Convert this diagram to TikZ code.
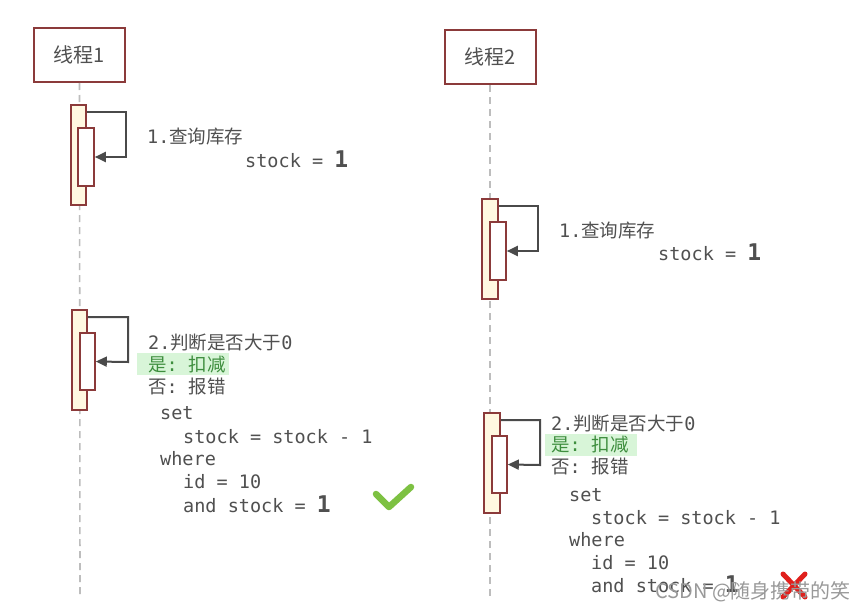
\documentclass[tikz,border=0pt]{standalone}
\usepackage{fontspec}
\setmonofont{DejaVu Sans Mono}
\newfontfamily\cjk{Noto Sans CJK SC}
\usetikzlibrary{arrows.meta}
\definecolor{boxred}{HTML}{8B3A3A}
\definecolor{actfill}{HTML}{FFF8E1}
\definecolor{txtgray}{HTML}{505050}
\definecolor{arrgray}{HTML}{4A4A4A}
\definecolor{hlgreen}{HTML}{D8F5D8}
\definecolor{txtgreen}{HTML}{3E8E3E}
\definecolor{checkgreen}{HTML}{7DC142}
\definecolor{xred}{HTML}{E0201C}
\definecolor{lifegray}{HTML}{BDBDBD}
\newcommand\zh[1]{{\cjk #1}}
\newcommand\bignum[1]{{\fontsize{23}{23}\selectfont\bfseries #1}}
\tikzset{
  thread/.style={draw=boxred, line width=2pt, fill=white, minimum width=91pt, minimum height=54pt, inner sep=0pt, font=\fontsize{20}{20}\selectfont\cjk, text=txtgray},
  outerbar/.style={draw=boxred, line width=1.6pt, fill=actfill},
  innerbar/.style={draw=boxred, line width=1.6pt, fill=white},
  selfarrow/.style={draw=arrgray, line width=2pt, -{Triangle[length=11pt,width=10pt]}},
  lifeline/.style={draw=lifegray, line width=1.6pt, dash pattern=on 7pt off 5pt},
  lbl/.style={anchor=base west, inner sep=0pt, text=txtgray, font=\fontsize{18.5}{18.5}\selectfont\ttfamily},
  glbl/.style={lbl, text=txtgreen},
  hl/.style={fill=hlgreen, draw=none},
  tick/.style={line cap=round, line join=round}
}
\begin{document}
\begin{tikzpicture}[x=1pt,y=-1pt]
\useasboundingbox[fill=white] (0,0) rectangle (862,610);
% thread headers
\node[thread] (t1) at (79.5,55) {线程1};
\node[thread] (t2) at (490,57) {线程2};
\coordinate (l1end) at (80,597);
\coordinate (l2end) at (490,597);
\draw[lifeline] (t1.south) -- (l1end);
\draw[lifeline] (t2.south) -- (l2end);

% ---- thread 1, step 1
\node[outerbar, minimum width=15pt, minimum height=100pt, inner sep=0pt] (a1o) at (78.5,155) {};
\node[innerbar, minimum width=16pt, minimum height=58pt, inner sep=0pt] (a1i) at (86,157) {};
\coordinate (a1s) at ([yshift=-8pt]a1o.north east);
\draw[selfarrow] (a1s) -| (126,157) -- (a1i.east);
\node[lbl] (q1) at (147,143) {1.\zh{查询库存}};
\node[lbl] (s1) at (245,167) {stock = \bignum{1}};

% ---- thread 1, step 2
\node[outerbar, minimum width=15pt, minimum height=100pt, inner sep=0pt] (b1o) at (79.5,360) {};
\node[innerbar, minimum width=15pt, minimum height=57pt, inner sep=0pt] (b1i) at (87.5,361.5) {};
\coordinate (b1s) at ([yshift=-8pt]b1o.north east);
\draw[selfarrow] (b1s) -| (128,362) -- (b1i.east);
\fill[hl] (137,353) rectangle (229,375);
\node[lbl] (j1) at (148,349) {2.\zh{判断是否大于}0};
\node[glbl] (y1) at (148,371) {\zh{是}: \zh{扣减}};
\node[lbl] (n1) at (148,393) {\zh{否}: \zh{报错}};
\node[lbl] (set1) at (160,419) {set};
\node[lbl] (st1) at (183,443) {stock = stock - 1};
\node[lbl] (wh1) at (160,465) {where};
\node[lbl] (id1) at (183,488) {id = 10};
\node[lbl] (and1) at (183,512) {and stock = \bignum{1}};
\draw[tick, draw=checkgreen, line width=6.5pt] (376,494) -- (389,507) -- (411,487);

% ---- thread 2, step 1
\node[outerbar, minimum width=16pt, minimum height=100pt, inner sep=0pt] (a2o) at (490,249) {};
\node[innerbar, minimum width=16pt, minimum height=58pt, inner sep=0pt] (a2i) at (498,251) {};
\coordinate (a2s) at ([yshift=-8pt]a2o.north east);
\draw[selfarrow] (a2s) -| (538,251) -- (a2i.east);
\node[lbl] (q2) at (559,237) {1.\zh{查询库存}};
\node[lbl] (s2) at (658,260) {stock = \bignum{1}};

% ---- thread 2, step 2
\node[outerbar, minimum width=16pt, minimum height=100pt, inner sep=0pt] (b2o) at (492,463) {};
\node[innerbar, minimum width=15pt, minimum height=57pt, inner sep=0pt] (b2i) at (499.5,464.5) {};
\coordinate (b2s) at ([yshift=-8pt]b2o.north east);
\draw[selfarrow] (b2s) -| (540,465) -- (b2i.east);
\fill[hl] (545,434) rectangle (637,456);
\node[lbl] (j2) at (551,430) {2.\zh{判断是否大于}0};
\node[glbl] (y2) at (551,451) {\zh{是}: \zh{扣减}};
\node[lbl] (n2) at (551,473) {\zh{否}: \zh{报错}};
\node[lbl] (set2) at (569,501) {set};
\node[lbl] (st2) at (591,524) {stock = stock - 1};
\node[lbl] (wh2) at (569,546) {where};
\node[lbl] (id2) at (591,569) {id = 10};
\node[lbl] (and2) at (591,592) {and stock = \bignum{1}};
\draw[tick, draw=xred, line width=5pt] (783,574) -- (805,597) (805,574) -- (783,597);

% watermark
\node[anchor=base west, inner sep=0pt, text=black!40, font=\fontsize{20}{20}\selectfont\cjk] (wm) at (655,598) {CSDN @随身携带的笑};
\end{tikzpicture}
\end{document}
